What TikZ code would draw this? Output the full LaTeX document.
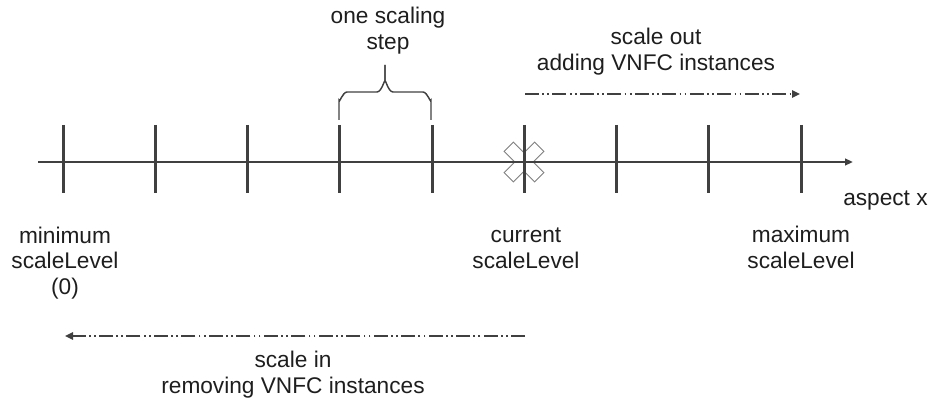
\documentclass[tikz,border=0pt]{standalone}
\usepackage{fontspec}
\setmainfont{Liberation Sans}
\usetikzlibrary{positioning,calc}
\usetikzlibrary{arrows.meta}
\definecolor{AxisGray}{RGB}{64,64,64}
\definecolor{MarkGray}{RGB}{128,128,128}
\definecolor{TextBlack}{RGB}{30,30,30}
\tikzset{
  axis/.style={draw=AxisGray,line width=1.5pt,-{Triangle[length=6pt,width=5pt]}},
  tickline/.style={draw=AxisGray,line width=2.25pt},
  dir/.style={draw=AxisGray,line width=1.2pt,-{Triangle[length=6pt,width=5.5pt]},
    dash pattern=on 10.5pt off 2.5pt on 1.3pt off 2.5pt on 1.3pt off 2.5pt},
  brace/.style={draw=AxisGray,line width=1.1pt},
  lbl/.style={inner sep=0pt,align=center,text=TextBlack,anchor=base,
    font=\fontsize{17}{19.5}\selectfont},
}
\begin{document}
\begin{tikzpicture}[x=0.75pt,y=-0.75pt]
\useasboundingbox (0,0) rectangle (929,399);
\coordinate (axstart) at (38,162);
\coordinate (axend) at (853,162);
\coordinate (cur) at (524,162);
% current position marker
\foreach \a in {45,-45}
  \draw[MarkGray,line width=1.5pt,rotate around={\a:(cur)}] (503,156) rectangle (545,168);
\foreach \a in {45,-45}
  \fill[white,rotate around={\a:(cur)}] (503,156) rectangle (545,168);
\draw[axis] (axstart)--(axend);
\foreach \i in {0,...,8}{
  \coordinate (tt\i) at ({63+92.25*\i},125);
  \coordinate (tb\i) at ({63+92.25*\i},193);
  \draw[tickline] (tt\i)--(tb\i);
}
% one scaling step
\draw[brace] (339,120)--(339,100) to[out=-90,in=180] (347,92)--(377,92)
  to[out=0,in=90] (385,82)--(385,65);
\draw[brace] (431,120)--(431,100) to[out=-90,in=0] (423,92)--(393,92)
  to[out=180,in=90] (385,82)--(385,65);
\node[lbl] (step) at (388,50) {one scaling\\step};
% directions
\coordinate (out0) at (525,94);
\coordinate (out1) at (800,94);
\coordinate (in0) at (525,336);
\coordinate (in1) at (65,336);
\draw[dir] (out0)--(out1);
\draw[dir] (in0)--(in1);
\node[lbl] (scaleout) at (656,71) {scale out\\adding VNFC instances};
\node[lbl] (scalein) at (293,393) {scale in\\removing VNFC instances};
% levels
\node[lbl] (minlevel) at (65,295) {minimum\\scaleLevel\\(0)};
\node[lbl] (curlevel) at (526,268) {current\\scaleLevel};
\node[lbl] (maxlevel) at (801,268) {maximum\\scaleLevel};
\node[lbl,anchor=base west] (aspect) at (843,206) {aspect x};
\end{tikzpicture}
\end{document}
